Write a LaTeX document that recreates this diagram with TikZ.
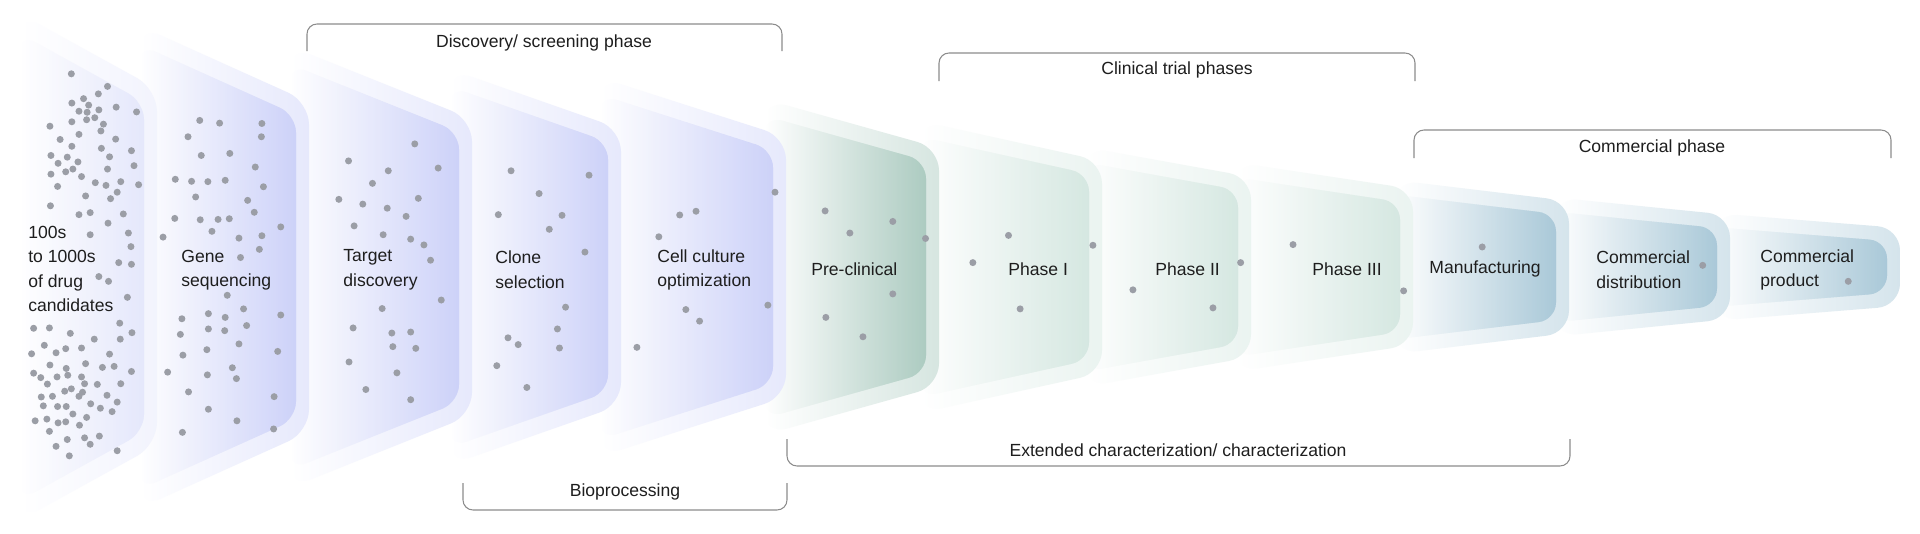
\documentclass[tikz,border=0pt]{standalone}
\usepackage{fontspec}
\usetikzlibrary{fadings}
\setmainfont{Liberation Sans}
\definecolor{cA}{RGB}{218,222,250}
\definecolor{cB}{RGB}{184,191,246}
\definecolor{cG}{RGB}{138,182,167}
\definecolor{cP}{RGB}{196,222,213}
\definecolor{cM}{RGB}{134,178,200}
\definecolor{dotc}{RGB}{155,158,166}
\definecolor{txt}{RGB}{30,30,30}
\definecolor{brk}{RGB}{140,140,140}
\tikzfading[name=vfade, top color=transparent!70, middle color=transparent!100, bottom color=transparent!70]
\tikzset{
  dot/.style={fill=dotc},
  lbl/.style={font=\fontsize{10}{14}\selectfont, text=txt, align=left, inner sep=0pt},
  blbl/.style={font=\fontsize{10}{12}\selectfont, text=txt, inner sep=0pt},
  brack/.style={draw=brk, line width=0.6pt, rounded corners=0.2cm},
}
\begin{document}
\begin{tikzpicture}[x=0.02cm,y=-0.02cm]
\useasboundingbox (0,0) rectangle (1920,534);
\fill[white] (0,0) rectangle (1920,534);
% stages, drawn from last to first
\foreach \R/\h/\L/\s/\c in {1900/39/1715/0.08/cM,1730/52/1555/0.1/cM,1569/66/1395/0.12/cM,1413/78/1235/0.15/cP,1251/90/1085/0.18/cP,1102/106/920/0.22/cP,939/119/765/0.28/cG,786/130/600/0.32/cB,621/138/450/0.35/cB,472/148/290/0.4/cB,309/165/140/0.45/cB,157/178/20/0.55/cA}{
  \pgfmathsetmacro{\H}{\h+\s*(\R-\L)}
  \pgfmathsetmacro{\Ri}{\R-13}
  \pgfmathsetmacro{\hi}{\h-13}
  \pgfmathsetmacro{\Hi}{\hi+\s*(\Ri-\L)}
  \shade[left color=white, right color=\c!35, rounded corners=0.45cm]
    (\L,{267-\H}) -- (\R,{267-\h}) -- (\R,{267+\h}) -- (\L,{267+\H}) -- cycle;
  \shade[left color=white, right color=\c, rounded corners=0.35cm]
    (\L,{267-\Hi}) -- (\Ri,{267-\hi}) -- (\Ri,{267+\hi}) -- (\L,{267+\Hi}) -- cycle;
  \fill[white, path fading=vfade, fit fading=true, rounded corners=0.35cm]
    (\L,{267-\Hi}) -- (\Ri,{267-\hi}) -- (\Ri,{267+\hi}) -- (\L,{267+\Hi}) -- cycle;
}
% dots
\begin{scope}[x=0.0102cm,y=-0.0068cm]
\foreach \p in {(140,217),(211,254),(193,276),(164,290),(141,303),(174,309),(155,327),(171,330),(194,323),(186,346),(170,352),(228,315),(268,329),(98,371),(141,358),(203,365),(198,385),(155,395),(118,410),(227,409),(141,430),(199,436),(258,443),(100,457),(132,462),(215,461),(153,476),(114,480),(143,497),(129,505),(211,497),(263,487),(100,512),(160,519),(187,537),(208,545),(237,534),(272,543),(113,548),(230,565),(168,576),(217,584),(99,605),(155,631),(177,625),(242,629),(212,656),(177,690),(252,685),(257,725),(233,772),(258,777),(194,813),(213,827),(250,874),(235,950),(66,965),(97,964),(138,980),(185,997),(236,997),(259,978),(87,1015),(110,1037),(129,1025),(160,1023),(62,1040),(215,1041),(98,1073),(168,1069),(201,1080),(224,1077),(130,1083),(258,1092),(66,1097),(80,1110),(112,1108),(133,1103),(160,1108),(93,1129),(166,1128),(191,1130),(237,1128),(127,1150),(140,1143),(162,1153),(81,1167),(103,1165),(155,1165),(210,1162),(178,1187),(230,1182),(85,1193),(113,1195),(130,1195),(197,1200),(220,1210),(143,1217),(69,1237),(92,1232),(114,1243),(129,1240),(170,1227),(156,1250),(97,1268),(132,1292),(166,1287),(195,1282),(110,1312),(177,1306),(136,1340),(230,1325),
(392,354),(431,362),(514,363),(513,402),(369,402),(395,457),(451,451),(501,491),(344,527),(376,533),(408,534),(442,530),(517,549),(384,579),(486,589),(499,624),(343,642),(393,646),(428,645),(450,643),(551,667),(416,680),(469,700),(514,693),(320,697),(509,733),(472,757),(446,868),(478,908),(409,922),(551,926),(357,937),(442,933),(484,957),(409,967),(441,972),(354,983),(469,1011),(406,1028),(545,1033),(359,1044),(456,1081),(329,1094),(407,1102),(464,1113),(370,1152),(538,1166),(409,1203),(465,1237),(537,1261),(358,1271),
(814,423),(684,473),(762,502),(860,494),(731,539),(665,586),(712,600),(760,612),(821,583),(797,636),(695,664),(752,690),(806,703),(832,720),(845,765),(866,882),(750,907),(693,964),(769,979),(806,976),(771,1019),(816,1024),(685,1064),(779,1096),(718,1145),(806,1175),
(1003,502),(1156,515),(1058,569),(978,631),(1103,633),(1078,674),(1148,741),(1110,903),(1094,967),(997,993),(1017,1013),(1098,1023),(975,1075),(1034,1139),
(1521,565),(1366,621),(1334,632),(1293,696),(1507,897),(1346,910),(1373,944),(1250,1021)}
  \fill[dot] \p circle[radius=0.07cm];
\end{scope}
\begin{scope}[shift={(780,0)},x=0.01455cm,y=-0.0068cm]
\foreach \p in {(62,620),(155,651),(96,685),(200,701),(155,864),(63,933),(114,990),(314,692),(430,721),(265,772),(330,908),(633,772),(485,852),(595,905),(705,719),(857,855),(965,726),(1268,780),(1468,827)}
  \fill[dot] \p circle[radius=0.07cm];
\end{scope}
% stage labels
\node[lbl,anchor=west] (s1) at (28,269) {100s\\to 1000s\\of drug\\candidates};
\node[lbl,anchor=west] (s2) at (181,270) {Gene\\sequencing};
\node[lbl,anchor=west] (s3) at (343,270) {Target\\discovery};
\node[lbl,anchor=west] (s4) at (495,270) {Clone\\selection};
\node[lbl,anchor=west] (s5) at (657,270) {Cell culture\\optimization};
\node[lbl,anchor=west] (s6) at (811,269) {Pre-clinical};
\node[lbl,anchor=west] (s7) at (1008,269) {Phase I};
\node[lbl,anchor=west] (s8) at (1155,269) {Phase II};
\node[lbl,anchor=west] (s9) at (1312,269) {Phase III};
\node[lbl,anchor=west] (s10) at (1429,269) {Manufacturing};
\node[lbl,anchor=west] (s11) at (1596,270) {Commercial\\distribution};
\node[lbl,anchor=west] (s12) at (1760,270) {Commercial\\product};
% brackets
\draw[brack] (307,51) -- (307,24) -- (782,24) -- (782,51);
\node[blbl] (b1) at (544,43) {Discovery/ screening phase};
\draw[brack] (463,483) -- (463,510) -- (787,510) -- (787,483);
\node[blbl] (b2) at (625,492) {Bioprocessing};
\draw[brack] (939,81) -- (939,53) -- (1415,53) -- (1415,81);
\node[blbl] (b3) at (1177,70) {Clinical trial phases};
\draw[brack] (1414,158) -- (1414,130) -- (1891,130) -- (1891,158);
\node[blbl] (b4) at (1652,148) {Commercial phase};
\draw[brack] (787,439) -- (787,466) -- (1570,466) -- (1570,439);
\node[blbl] (b5) at (1178,450) {Extended characterization/ characterization};
\end{tikzpicture}
\end{document}
